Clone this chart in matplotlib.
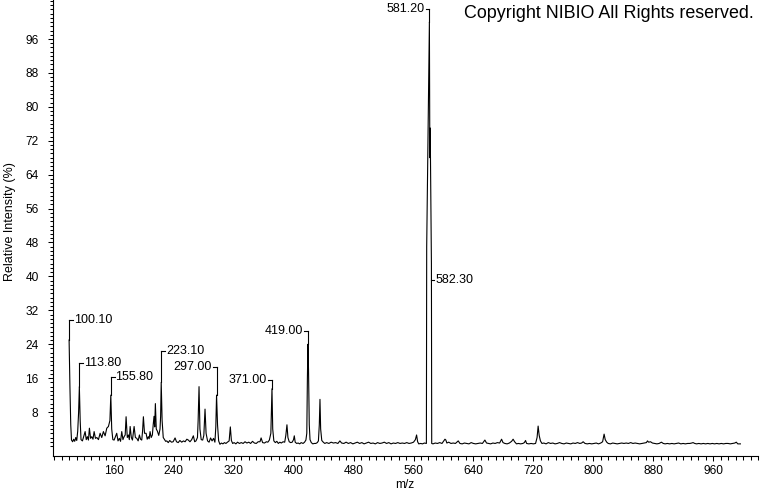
import numpy as np
import matplotlib
matplotlib.use("Agg")
import matplotlib.pyplot as plt
from matplotlib.ticker import FixedLocator

plt.rcParams['font.family'] = ['Liberation Sans', 'DejaVu Sans']

# ---- spectrum (m/z, relative intensity %) ----
mz = [
    100.1, 101.2, 102.3, 103.3, 104.8, 106.2, 107.6, 109.0, 110.3, 111.6,
    112.8, 113.8, 114.9, 116.0, 117.9, 119.6, 121.5, 123.0, 124.5, 125.9,
    127.2, 128.8, 130.4, 132.0, 133.5, 135.3, 137.1, 139.3, 141.5, 143.7,
    145.9, 148.2, 150.4, 152.6, 154.6, 155.8, 157.0, 158.5, 160.2, 161.9,
    163.7, 165.4, 167.2, 168.8, 170.4, 172.0, 173.5, 175.0, 176.2, 177.8,
    179.3, 180.5, 181.6, 183.2, 184.7, 186.9, 188.6, 190.5, 192.3, 194.0,
    195.5, 197.1, 198.2, 199.3, 200.8, 202.9, 204.4, 205.9, 207.0, 208.2,
    209.7, 211.3, 212.4, 213.5, 214.4, 215.3, 216.5, 218.0, 219.8, 221.5,
    222.3, 223.1, 224.3, 225.8, 227.3, 229.0, 230.5, 232.5, 234.5, 236.8,
    239.0, 241.6, 243.5, 245.8, 248.0, 250.5, 252.8, 255.0, 257.3, 259.3,
    261.5, 263.8, 266.0, 267.8, 269.5, 271.5, 272.4, 273.6, 274.8, 276.5,
    278.5, 280.0, 281.6, 283.0, 285.0, 287.0, 289.0, 291.0, 293.0, 294.8,
    296.0, 297.0, 298.3, 299.8, 301.5, 303.5, 305.5, 307.5, 309.5, 311.5,
    313.8, 315.4, 316.8, 318.5, 320.5, 322.8, 325.0, 327.5, 330.0, 332.5,
    335.0, 337.5, 340.0, 342.5, 345.0, 347.5, 350.0, 352.5, 355.0, 356.5,
    358.5, 361.0, 363.5, 365.5, 367.5, 369.5, 370.2, 371.0, 372.0, 373.5,
    375.5, 377.5, 379.5, 381.5, 383.5, 385.8, 388.0, 389.5, 391.0, 392.3,
    394.0, 396.0, 398.0, 399.8, 400.8, 402.0, 404.0, 406.0, 408.0, 410.0,
    412.5, 414.5, 416.3, 417.5, 418.3, 419.0, 419.8, 420.8, 421.8, 423.5,
    425.5, 427.5, 429.5, 431.5, 433.0, 434.2, 435.1, 436.0, 437.5, 439.5,
    441.5, 444.0, 447.0, 450.0, 453.0, 456.0, 459.0, 461.7, 464.0, 467.0,
    470.0, 473.0, 476.0, 479.0, 482.0, 485.0, 488.0, 491.0, 494.0, 497.0,
    500.0, 503.0, 506.0, 509.0, 512.0, 515.0, 518.0, 521.0, 524.0, 527.0,
    530.0, 533.0, 536.0, 539.0, 542.0, 545.0, 548.0, 551.0, 554.0, 557.0,
    560.0, 562.5, 564.1, 565.5, 567.0, 569.5, 572.0, 574.5, 576.8, 577.2,
    577.6, 581.2, 581.8, 582.3, 583.9, 584.3, 586.0, 589.0, 592.0, 595.0,
    598.0, 600.5, 602.0, 603.2, 604.5, 607.0, 610.0, 613.0, 616.0, 619.7,
    622.0, 625.0, 628.0, 631.0, 634.0, 637.0, 640.0, 643.0, 646.0, 649.0,
    652.0, 655.3, 657.5, 660.0, 663.0, 666.0, 669.0, 672.0, 675.0, 677.6,
    679.5, 682.0, 685.0, 688.0, 691.0, 693.0, 695.0, 697.5, 700.0, 703.0,
    706.0, 708.0, 709.6, 711.0, 714.0, 717.0, 720.0, 723.0, 725.0, 726.4,
    727.8, 729.5, 731.5, 734.0, 737.0, 740.0, 743.0, 746.0, 749.0, 752.0,
    755.0, 758.0, 761.0, 764.0, 767.0, 770.0, 773.0, 776.0, 779.0, 782.0,
    784.5, 786.5, 789.0, 792.0, 795.0, 798.0, 801.0, 804.0, 807.0, 810.0,
    812.5, 814.5, 816.0, 818.0, 820.0, 823.0, 826.0, 829.0, 832.0, 835.0,
    838.0, 841.0, 844.0, 847.0, 850.0, 853.0, 856.0, 859.0, 862.0, 865.0,
    868.0, 871.0, 872.4, 874.0, 876.5, 879.0, 882.0, 885.0, 888.0, 891.0,
    893.5, 896.0, 899.0, 902.0, 905.0, 908.0, 911.0, 914.0, 917.0, 920.0,
    923.0, 926.0, 929.0, 931.5, 933.3, 935.5, 938.0, 941.0, 944.0, 947.0,
    950.0, 953.0, 956.0, 959.0, 962.0, 965.0, 968.0, 971.0, 974.0, 977.0,
    980.0, 983.0, 986.0, 989.0, 991.0, 993.0, 996.5,
]
intensity = [
    25.0, 14.0, 5.0, 1.4, 1.0, 1.6, 1.1, 2.0, 1.3, 3.5,
    8.0, 14.0, 6.0, 1.5, 1.2, 2.2, 3.4, 1.5, 2.2, 1.4,
    4.2, 1.8, 2.2, 1.6, 3.4, 1.8, 2.0, 1.5, 3.0, 2.0,
    3.4, 2.4, 4.2, 4.6, 6.0, 12.0, 4.0, 1.5, 1.4, 2.2,
    3.0, 1.2, 1.8, 1.1, 3.4, 1.5, 2.2, 2.6, 6.9, 2.0,
    2.6, 1.5, 4.6, 2.0, 1.4, 4.6, 2.0, 1.8, 1.2, 2.6,
    1.6, 1.4, 3.5, 6.9, 3.0, 3.0, 1.6, 2.2, 1.7, 3.4,
    2.0, 2.6, 5.0, 7.0, 4.5, 10.0, 4.0, 3.5, 2.5, 4.0,
    7.0, 15.0, 6.0, 2.0, 1.6, 1.1, 1.2, 0.8, 1.3, 0.9,
    1.0, 1.9, 1.0, 0.8, 1.3, 0.9, 1.2, 1.0, 1.6, 1.4,
    1.0, 1.5, 2.4, 1.0, 1.2, 2.0, 6.0, 14.0, 4.0, 1.5,
    1.4, 2.5, 8.7, 3.0, 1.2, 0.9, 1.9, 1.2, 1.8, 0.9,
    4.5, 12.0, 5.0, 1.2, 0.4, 0.7, 0.5, 0.8, 0.6, 0.9,
    1.2, 4.5, 1.3, 0.6, 0.8, 0.5, 0.9, 0.6, 0.8, 0.6,
    1.0, 0.7, 0.9, 0.6, 1.1, 0.7, 0.6, 1.0, 1.0, 1.9,
    0.8, 0.7, 1.0, 0.9, 1.4, 3.0, 8.0, 13.5, 4.0, 1.2,
    0.8, 1.1, 0.6, 0.9, 0.7, 1.0, 0.9, 2.5, 5.0, 2.0,
    1.0, 0.8, 0.9, 1.5, 2.4, 0.9, 0.6, 0.7, 0.5, 0.8,
    0.6, 0.9, 1.4, 3.0, 16.0, 24.0, 18.0, 5.0, 1.5, 0.8,
    0.5, 0.6, 0.6, 0.8, 1.2, 5.0, 11.0, 4.0, 1.3, 0.9,
    0.6, 0.8, 0.6, 0.9, 0.7, 0.8, 0.6, 1.2, 0.7, 0.6,
    0.9, 0.6, 0.8, 0.5, 0.7, 0.9, 0.6, 0.8, 0.5, 0.7,
    0.9, 0.6, 0.7, 0.5, 0.8, 0.6, 0.7, 0.9, 0.6, 0.8,
    0.5, 0.7, 0.6, 0.8, 0.6, 0.7, 0.6, 0.8, 0.6, 0.7,
    0.9, 1.5, 2.6, 1.0, 0.5, 0.6, 0.5, 0.7, 0.6, 0.6,
    47.0, 100.0, 68.0, 75.0, 43.0, 0.6, 0.5, 0.7, 0.6, 0.8,
    0.6, 1.2, 1.6, 1.4, 0.7, 0.9, 0.6, 0.7, 0.6, 1.2,
    0.6, 0.5, 0.7, 0.6, 0.5, 0.8, 0.6, 0.5, 0.6, 0.7,
    0.6, 1.4, 0.7, 0.6, 0.5, 0.7, 0.6, 0.8, 0.7, 1.6,
    0.8, 0.6, 0.5, 0.7, 1.1, 1.6, 1.0, 0.5, 0.6, 0.5,
    0.6, 0.8, 1.3, 0.6, 0.5, 0.6, 0.5, 0.6, 2.0, 4.7,
    2.5, 1.2, 0.6, 0.7, 0.5, 0.8, 0.6, 0.7, 0.5, 0.6,
    0.8, 0.6, 0.5, 0.7, 0.6, 0.5, 0.7, 0.6, 0.8, 0.6,
    0.7, 1.0, 0.6, 0.5, 0.6, 0.5, 0.6, 0.7, 0.5, 0.7,
    1.0, 2.8, 1.5, 0.9, 0.6, 0.5, 0.7, 0.6, 0.5, 0.6,
    0.7, 0.6, 0.7, 0.6, 0.8, 0.6, 0.7, 0.6, 0.5, 0.6,
    0.7, 0.8, 1.2, 0.9, 1.0, 0.7, 0.6, 0.5, 0.6, 0.9,
    0.6, 0.5, 0.6, 0.5, 0.6, 0.5, 0.6, 0.7, 0.5, 0.6,
    0.5, 0.6, 0.6, 0.7, 0.8, 0.6, 0.5, 0.6, 0.5, 0.6,
    0.5, 0.6, 0.5, 0.6, 0.5, 0.6, 0.5, 0.6, 0.5, 0.6,
    0.6, 0.5, 0.6, 0.7, 0.9, 0.5, 0.5,
]

# ---- peak labels ----
label_mz = [100.1, 113.8, 155.8, 223.1, 297.0, 371.0, 419.0, 581.2]
label_text = ["100.10", "113.80", "155.80", "223.10", "297.00", "371.00", "419.00", "581.20"]
label_y = [29.7, 19.6, 16.3, 22.4, 18.6, 15.6, 27.1, 103.1]   # height of the label, % units
label_side = ["r", "r", "r", "r", "l", "l", "l", "l"]

x_ticks = list(range(160, 961, 80))
y_ticks = list(range(8, 97, 8))

fig = plt.figure(figsize=(7.6, 4.92), dpi=100)
ax = fig.add_axes([53.3 / 760, 36 / 492, (758 - 53.3) / 760, 456 / 492])

ax.plot(mz, intensity, color="black", lw=0.8)

# bracket style labels
for m, t, ly, side in zip(label_mz, label_text, label_y, label_side):
    top = np.interp(m, mz, intensity)
    d = 5.0 if side == "r" else -5.0
    ax.plot([m, m], [top, ly], color="black", lw=0.8)
    ax.plot([m, m + d], [ly, ly], color="black", lw=0.8)
    ax.text(m + d * 1.25, ly, t, ha="left" if side == "r" else "right",
            va="center", fontsize=9)

# side label for the isotope peak
ax.plot([583.0, 587.0], [39.2, 39.2], color="black", lw=0.8)
ax.text(589.0, 39.2, "582.30", ha="left", va="center", fontsize=9)

ax.set_xlim(79, 1020)
ax.set_ylim(-2.36, 105.2)
for s in ["top", "right"]:
    ax.spines[s].set_visible(False)
ax.spines["left"].set_linewidth(0.8)
ax.spines["bottom"].set_linewidth(0.8)

ax.set_xticks(x_ticks)
ax.set_yticks(y_ticks)
ax.xaxis.set_minor_locator(FixedLocator(list(range(80, 1021, 10))))
ax.yaxis.set_minor_locator(FixedLocator(list(range(0, 106))))
ax.tick_params(axis="x", which="major", length=3.4, width=0.75, pad=3, labelsize=8.6)
ax.tick_params(axis="x", which="minor", length=3.0, width=0.75)
ax.tick_params(axis="y", which="major", length=3.6, width=0.75, pad=7, labelsize=8.6)
ax.tick_params(axis="y", which="minor", length=2.2, width=0.75)

fig.text(10 / 760, 1 - 222 / 492, "Relative Intensity (%)", rotation=90,
         ha="center", va="center", fontsize=9)
fig.text(405 / 760, 1 - 485 / 492, "m/z", ha="center", va="center", fontsize=8.6)
fig.text(754 / 760, 1 - 13 / 492, "Copyright NIBIO All Rights reserved.",
         ha="right", va="center", fontsize=12.9)

fig.savefig("out.png", dpi=100)
